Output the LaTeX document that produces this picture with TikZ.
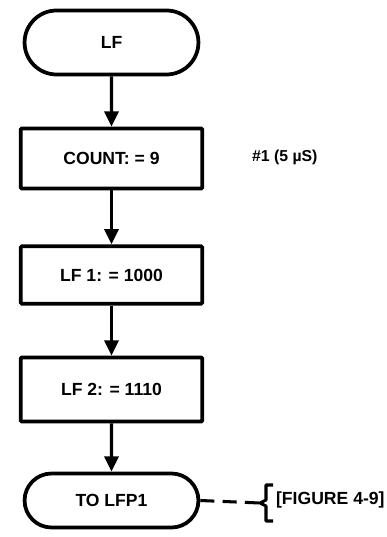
\documentclass[tikz,border=0pt]{standalone}
\usepackage{fontspec}
\setmainfont{Liberation Sans}
\usetikzlibrary{shapes.misc,arrows.meta,positioning,calc}

\begin{document}
\begin{tikzpicture}[
    x=0.03cm, y=-0.03cm,
    term/.style={draw, line width=3.2pt, rounded rectangle, minimum width=5.45cm, minimum height=1.8cm, font=\fontsize{15}{17}\selectfont\bfseries},
    procbox/.style={draw, line width=3.2pt, rounded corners=1pt, minimum width=5.45cm, minimum height=1.8cm, font=\fontsize{15}{17}\selectfont\bfseries},
    flow/.style={line width=2.6pt, -{Triangle[length=13pt, width=12pt]}},
    lbl/.style={font=\fontsize{13.5}{15}\selectfont\bfseries},
]
\useasboundingbox (0,0) rectangle (386,537);

\node[term, minimum height=1.92cm] (lf) at (111.5,42.5) {LF};
\node[procbox] (count) at (111.5,158.5) {COUNT: = 9};
\node[procbox, minimum height=1.72cm] (lfone) at (111.5,275) {LF 1: = 1000};
\node[procbox, minimum height=1.92cm] (lftwo) at (111.5,389.5) {LF 2: = 1110};
\node[term, minimum height=1.62cm] (tolfp) at (111.5,500.5) {TO LFP1};

\node[lbl, anchor=west] (note) at (248,157) {\#1 (5 \textmu S)};

\draw[flow] (lf) -- (count);
\draw[flow] (count) -- (lfone);
\draw[flow] (lfone) -- (lftwo);
\draw[flow] (lftwo) -- (tolfp);

% off-page reference
\coordinate (brk) at (260,503);
\draw[line width=2.6pt, dash pattern=on 12pt off 7pt] (tolfp.east) -- (brk);
\draw[line width=2.6pt, line join=round] ($(brk)+(13,-18)$) -- ++(-7,0) -- ++(0,15) -- (brk) -- ++(6,3) -- ++(0,15) -- ++(7,0);
\node[lbl, font=\fontsize{15}{17}\selectfont\bfseries, anchor=west] (fig) at (272,500) {[FIGURE 4-9]};
\end{tikzpicture}
\end{document}
